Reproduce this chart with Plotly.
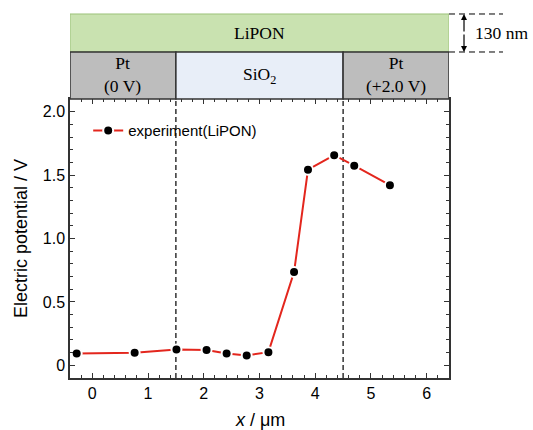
import plotly.graph_objects as go

# data
x_um = [-0.28, 0.76, 1.51, 2.05, 2.41, 2.77, 3.16, 3.62, 3.87, 4.34, 4.70, 5.34]
potential_V = [0.094, 0.10, 0.125, 0.12, 0.094, 0.078, 0.104, 0.735, 1.543, 1.657, 1.574, 1.42]
x_tickvals = [0, 1, 2, 3, 4, 5, 6]
y_tickvals = [0, 0.5, 1.0, 1.5, 2.0]
y_ticktext = ["0", "0.5", "1.0", "1.5", "2.0"]
boundaries = [1.5, 4.5]
series_name = "experiment(LiPON)"

XR = [-0.4, 6.4]
YR = [-0.1, 2.1]

fig = go.Figure()
fig.add_trace(go.Scatter(
    x=x_um, y=potential_V, mode="lines+markers", name=series_name,
    line=dict(color="#e3261d", width=2),
    marker=dict(color="black", size=10, line=dict(color="white", width=2)),
))

shapes = []
# dashed boundary lines
for b in boundaries:
    shapes.append(dict(type="line", xref="x", yref="y", x0=b, x1=b, y0=YR[0], y1=YR[1],
                       line=dict(color="black", width=1.2, dash="5px,3px"), layer="below"))

# top structure boxes
lip_y0, lip_y1 = 1.1685, 1.3047
sub_y0, sub_y1 = 1.0, 1.1685
shapes.append(dict(type="rect", xref="x", yref="paper", x0=XR[0], x1=XR[1], y0=lip_y0, y1=lip_y1,
                   fillcolor="#c9e2b0", line=dict(color="#9cc27a", width=1)))
shapes.append(dict(type="rect", xref="x", yref="paper", x0=XR[0], x1=boundaries[0], y0=sub_y0, y1=sub_y1,
                   fillcolor="#bdbdbd", line=dict(color="#333333", width=1.5)))
shapes.append(dict(type="rect", xref="x", yref="paper", x0=boundaries[0], x1=boundaries[1], y0=sub_y0, y1=sub_y1,
                   fillcolor="#e8eef8", line=dict(color="#333333", width=1.5)))
shapes.append(dict(type="rect", xref="x", yref="paper", x0=boundaries[1], x1=XR[1], y0=sub_y0, y1=sub_y1,
                   fillcolor="#bdbdbd", line=dict(color="#333333", width=1.5)))
# thickness indicator
for yy in (lip_y0, lip_y1):
    shapes.append(dict(type="line", xref="paper", yref="paper", x0=1.0, x1=1.1425, y0=yy, y1=yy,
                       line=dict(color="black", width=1, dash="6px,4px")))

serif = "Liberation Serif, Times New Roman, serif"
sfont = dict(family=serif, size=17.5, color="black")
sans = "Liberation Sans, Arial, sans-serif"
annotations = [
    dict(x=(XR[0] + XR[1]) / 2, y=(lip_y0 + lip_y1) / 2, xref="x", yref="paper", text="LiPON",
         xanchor="center", yanchor="middle", showarrow=False, font=sfont),
    dict(x=(XR[0] + boundaries[0]) / 2, y=(sub_y0 + sub_y1) / 2 + 0.005, xref="x", yref="paper", text="Pt<br>(0 V)",
         xanchor="center", yanchor="middle", showarrow=False, font=sfont),
    dict(x=(boundaries[0] + boundaries[1]) / 2, y=(sub_y0 + sub_y1) / 2, xref="x", yref="paper",
         text="SiO<sub>2</sub>", xanchor="center", yanchor="middle", showarrow=False, font=sfont),
    dict(x=(boundaries[1] + XR[1]) / 2, y=(sub_y0 + sub_y1) / 2 + 0.005, xref="x", yref="paper", text="Pt<br>(+2.0 V)",
         xanchor="center", yanchor="middle", showarrow=False, font=sfont),
    dict(x=1.0633, y=(lip_y0 + lip_y1) / 2, xref="paper", yref="paper", text="130 nm",
         xanchor="left", yanchor="middle", showarrow=False, font=sfont),
    # double arrow
    dict(x=1.0396, y=lip_y1, ax=0, ay=19, xref="paper", yref="paper",
         axref="pixel", ayref="pixel", text="", showarrow=True, arrowhead=2, arrowsize=1, arrowwidth=1.2,
         arrowcolor="black"),
    dict(x=1.0396, y=lip_y0, ax=0, ay=-19, xref="paper", yref="paper",
         axref="pixel", ayref="pixel", text="", showarrow=True, arrowhead=2, arrowsize=1, arrowwidth=1.2,
         arrowcolor="black"),
    # x axis title
    dict(x=0.5, y=-0.15, xref="paper", yref="paper", text="<i>x</i> / μm", xanchor="center",
         yanchor="middle", showarrow=False, font=dict(family=sans, size=18, color="black")),
]

fig.update_layout(
    width=533, height=430,
    margin=dict(l=70, r=84, t=99, b=52),
    paper_bgcolor="white", plot_bgcolor="white",
    font=dict(family=sans, size=16, color="black"),
    shapes=shapes, annotations=annotations,
    showlegend=True,
    legend=dict(x=0.048, y=0.945, xanchor="left", yanchor="top", bgcolor="rgba(0,0,0,0)",
                font=dict(family=sans, size=15), borderwidth=0),
    xaxis=dict(range=XR, tickvals=x_tickvals, ticks="inside", ticklen=5, tickwidth=1,
               tickcolor="#333333", showline=True, linecolor="#333333", linewidth=1.5, mirror="allticks",
               showgrid=False, zeroline=False, automargin=False,
               minor=dict(dtick=0.2, tick0=0, ticks="inside", ticklen=3, tickcolor="#333333", showgrid=False),
               tickfont=dict(size=16)),
    yaxis=dict(range=YR, tickvals=y_tickvals, ticktext=y_ticktext, ticks="inside", ticklen=5, tickwidth=1,
               tickcolor="#333333", showline=True, linecolor="#333333", linewidth=1.5, mirror="allticks",
               showgrid=False, zeroline=False, automargin=False,
               minor=dict(dtick=0.1, tick0=0, ticks="inside", ticklen=3, tickcolor="#333333", showgrid=False),
               title=dict(text="Electric potential / V", font=dict(size=18), standoff=10),
               tickfont=dict(size=16)),
)

fig.write_html("out.html", config={"displayModeBar": False},
               post_script="document.body.style.margin='0';document.body.style.padding='0';")
